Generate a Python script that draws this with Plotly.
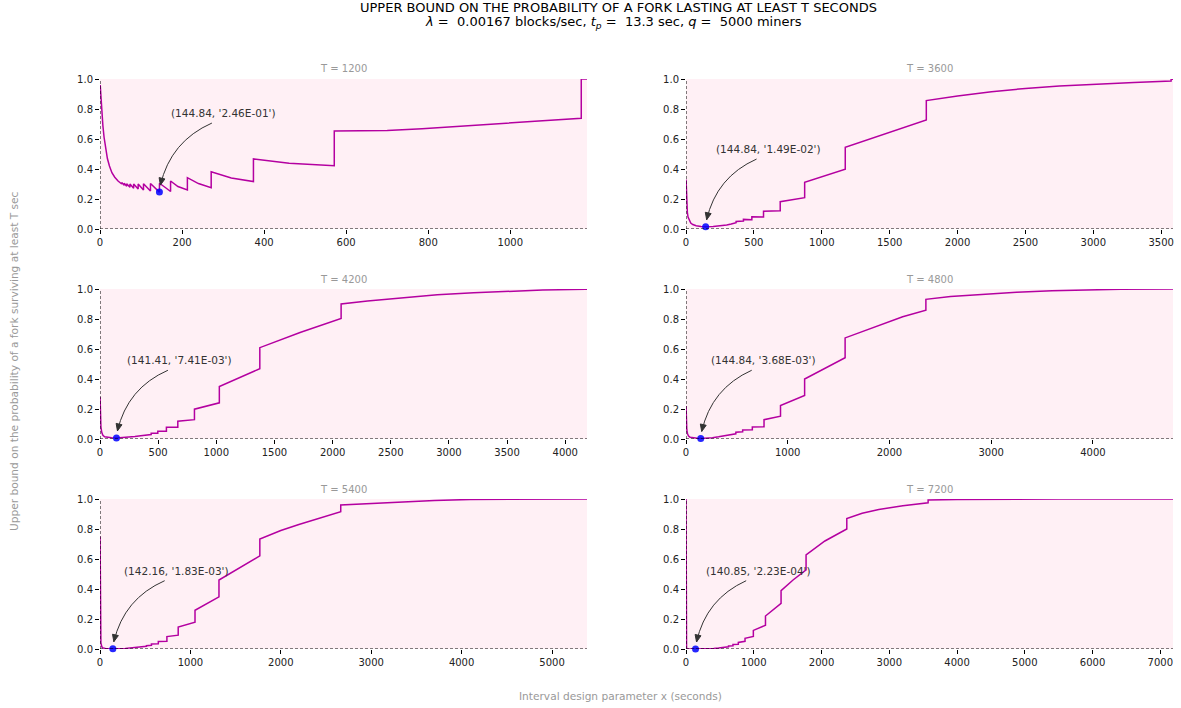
import math
import plotly.graph_objects as go

# ---------------- data ----------------
T_values = [1200, 3600, 4200, 4800, 5400, 7200]

x_T1200 = [0.5, 2, 4, 7, 10, 14, 18, 23, 29, 36, 44, 53, 53, 59, 59, 65, 65, 73, 73, 82, 82,
           93, 93, 106, 106, 123, 123, 144.84, 145, 160, 172, 172, 190, 213, 213, 240, 271, 271,
           320, 374, 374, 461, 520, 571, 571, 700, 785, 947, 1060, 1173, 1173, 1187]
y_T1200 = [0.96, 0.88, 0.79, 0.69, 0.61, 0.53, 0.47, 0.42, 0.375, 0.345, 0.32, 0.30, 0.31, 0.292,
           0.305, 0.285, 0.302, 0.278, 0.300, 0.272, 0.300, 0.266, 0.300, 0.260, 0.302, 0.254, 0.303,
           0.246, 0.305, 0.275, 0.25, 0.32, 0.283, 0.26, 0.342, 0.303, 0.276, 0.382, 0.34, 0.316,
           0.467, 0.438, 0.428, 0.422, 0.653, 0.657, 0.669, 0.70, 0.718, 0.738, 1.0, 1.0]

x_T3600 = [0.5, 3, 6, 10, 15, 24, 35, 50, 75, 110, 144.84, 200, 250, 300, 333, 369, 369, 423, 423,
           485, 485, 571, 571, 694, 694, 874, 874, 1020, 1173, 1173, 1470, 1770, 1770, 2000, 2250,
           2500, 2750, 3000, 3300, 3573, 3573, 3587]
y_T3600 = [0.33, 0.22, 0.15, 0.11, 0.08, 0.055, 0.04, 0.03, 0.022, 0.017, 0.0149, 0.017, 0.021,
           0.027, 0.033, 0.042, 0.05, 0.053, 0.064, 0.062, 0.082, 0.08, 0.118, 0.122, 0.182, 0.209,
           0.311, 0.355, 0.398, 0.544, 0.635, 0.727, 0.856, 0.887, 0.915, 0.937, 0.953, 0.966,
           0.977, 0.986, 0.998, 0.998]

x_T4200 = [0.5, 3, 8, 15, 25, 40, 70, 100, 141.41, 200, 250, 300, 350, 393, 393, 440, 440, 497,
           497, 571, 571, 669, 669, 812, 812, 1026, 1026, 1200, 1374, 1374, 1720, 2073, 2073, 2300,
           2617, 2900, 3212, 3500, 3807, 4173, 4187]
y_T4200 = [0.28, 0.15, 0.08, 0.045, 0.025, 0.015, 0.01, 0.0085, 0.0074, 0.009, 0.012, 0.016,
           0.021, 0.025, 0.028, 0.03, 0.038, 0.038, 0.051, 0.051, 0.078, 0.078, 0.118, 0.129,
           0.199, 0.241, 0.35, 0.41, 0.469, 0.609, 0.71, 0.804, 0.90, 0.92, 0.944, 0.962, 0.975,
           0.985, 0.993, 0.998, 0.999]

x_T4800 = [0.5, 3, 8, 15, 25, 40, 70, 110, 144.84, 200, 260, 320, 380, 440, 490, 490, 557, 557,
           652, 652, 767, 767, 929, 929, 1166, 1166, 1564, 1564, 1900, 2130, 2358, 2358, 2600,
           2922, 3250, 3598, 4000, 4274, 4787]
y_T4800 = [0.22, 0.12, 0.06, 0.035, 0.02, 0.012, 0.007, 0.005, 0.00368, 0.005, 0.009, 0.015,
           0.022, 0.03, 0.035, 0.045, 0.048, 0.06, 0.062, 0.08, 0.082, 0.129, 0.152, 0.223, 0.29,
           0.40, 0.542, 0.674, 0.76, 0.815, 0.859, 0.931, 0.95, 0.964, 0.979, 0.989, 0.995, 0.998,
           1.0]

x_T5400 = [0.5, 2, 5, 10, 20, 35, 60, 100, 142.16, 200, 280, 360, 440, 513, 513, 569, 569, 645,
           645, 740, 740, 865, 865, 1051, 1051, 1316, 1316, 1550, 1768, 1768, 2000, 2200, 2450,
           2663, 2663, 3000, 3338, 3700, 4097, 4600, 5387]
y_T5400 = [0.75, 0.3, 0.1, 0.04, 0.015, 0.007, 0.004, 0.0025, 0.00183, 0.002, 0.004, 0.008,
           0.013, 0.018, 0.022, 0.025, 0.034, 0.035, 0.05, 0.052, 0.083, 0.092, 0.146, 0.179,
           0.258, 0.348, 0.46, 0.545, 0.621, 0.733, 0.79, 0.83, 0.875, 0.915, 0.96, 0.97, 0.978,
           0.99, 0.997, 0.999, 1.0]

x_T7200 = [0.3, 1, 2, 4, 8, 15, 30, 60, 100, 140.85, 200, 300, 408, 480, 555, 627, 627, 693, 693,
           772, 772, 871, 871, 994, 994, 1173, 1173, 1403, 1403, 1580, 1772, 1772, 2050, 2373,
           2373, 2600, 2845, 3200, 3573, 3573, 4000, 4500, 5500, 7187]
y_T7200 = [1.0, 0.6, 0.25, 0.06, 0.01, 0.002, 0.0005, 0.0003, 0.00025, 0.000223, 0.0003, 0.0008,
           0.003, 0.006, 0.01, 0.015, 0.02, 0.022, 0.03, 0.031, 0.044, 0.051, 0.071, 0.084, 0.124,
           0.158, 0.22, 0.304, 0.389, 0.46, 0.527, 0.628, 0.72, 0.80, 0.87, 0.905, 0.93, 0.955,
           0.975, 0.993, 0.997, 0.999, 1.0, 1.0]

series_x = [x_T1200, x_T3600, x_T4200, x_T4800, x_T5400, x_T7200]
series_y = [y_T1200, y_T3600, y_T4200, y_T4800, y_T5400, y_T7200]

min_x = [144.84, 144.84, 141.41, 144.84, 142.16, 140.85]
min_y = [0.246, 0.0149, 0.00741, 0.00368, 0.00183, 0.000223]
min_labels = ["(144.84, '2.46E-01')", "(144.84, '1.49E-02')", "(141.41, '7.41E-03')",
              "(144.84, '3.68E-03')", "(142.16, '1.83E-03')", "(140.85, '2.23E-04')"]

x_max = [1187, 3587, 4187, 4787, 5387, 7187]
x_dtick = [200, 500, 500, 1000, 1000, 1000]

# ---------------- layout constants ----------------
W, H = 1181, 708
FONT = "DejaVu Sans"
LINE_COLOR = "rgb(180,0,160)"
BG = "#fff0f5"
ARROW_COLOR = "#333"
label_pos = [(302, 0.773), (608, 0.533), (687, 0.525), (764, 0.525), (848, 0.522), (1065, 0.522)]
# arrow tail / head offsets in pixels (relative to text centre / marked point)
tail_off = (-12, 10)
head_off = (1, -7)
ARC_RAD = 0.25

col_px = [(100, 587), (686, 1173)]
row_px = [(79, 229), (289, 439), (499, 649)]

fig = go.Figure()
layout = dict(
    template="none",
    width=W, height=H, autosize=False,
    margin=dict(l=0, r=0, t=0, b=0, pad=0),
    paper_bgcolor="white",
    showlegend=False,
    font=dict(family=FONT, size=10, color="#222"),
)
shapes = []
annotations = []

for i, T in enumerate(T_values):
    r, c = divmod(i, 2)
    n = "" if i == 0 else str(i + 1)
    xa, ya = "xaxis" + n, "yaxis" + n
    xr, yr = "x" + n, "y" + n
    x0p, x1p = col_px[c]
    y0p, y1p = row_px[r]
    layout[xa] = dict(
        domain=[x0p / W, x1p / W], anchor=yr, range=[0, x_max[i]], automargin=False,
        dtick=x_dtick[i], tick0=0, ticks="outside", ticklen=4, tickcolor="black", tickwidth=1,
        showgrid=False, zeroline=False, showline=False,
        tickfont=dict(size=10, color="#222"),
    )
    layout[ya] = dict(
        domain=[1 - y1p / H, 1 - y0p / H], anchor=xr, range=[0, 1.0], automargin=False,
        dtick=0.2, tick0=0, tickformat=".1f", ticks="outside", ticklen=4, tickcolor="black",
        tickwidth=1, showgrid=False, zeroline=False, showline=False,
        tickfont=dict(size=10, color="#222"),
    )
    fig.add_trace(go.Scatter(
        x=series_x[i], y=series_y[i], mode="lines",
        line=dict(color=LINE_COLOR, width=1.5), xaxis=xr, yaxis=yr,
    ))
    fig.add_trace(go.Scatter(
        x=[min_x[i]], y=[min_y[i]], mode="markers",
        marker=dict(color="blue", size=7, opacity=0.85, line=dict(width=0)), xaxis=xr, yaxis=yr,
        cliponaxis=False,
    ))
    # dashed spines
    shapes.append(dict(type="line", xref=xr, yref=yr + " domain", x0=0, x1=0, y0=0, y1=1,
                       line=dict(color="black", width=1, dash="3px,2px")))
    shapes.append(dict(type="line", xref=xr + " domain", yref=yr, x0=0, x1=1, y0=0, y1=0,
                       line=dict(color="black", width=1, dash="3px,2px")))
    # subplot title
    annotations.append(dict(
        text=f"T = {T}", xref="paper", yref="paper",
        x=(x0p + x1p) / 2 / W, y=1 - (y0p - 10) / H, xanchor="center", yanchor="middle",
        showarrow=False, font=dict(size=10, color="#999"),
    ))
    # min annotation text
    lx, ly = label_pos[i]
    annotations.append(dict(
        text=min_labels[i], xref=xr, yref=yr, x=lx, y=ly, xanchor="center", yanchor="middle",
        showarrow=False, font=dict(size=10.5, color="#333"),
    ))

    # curved arrow (arc3 style) from below text to the marked point
    sx = (x1p - x0p) / x_max[i]
    sy = (y1p - y0p) / 1.0

    def to_px(xv, yv):
        return x0p + xv * sx, y1p - yv * sy

    def to_data(px, py):
        return (px - x0p) / sx, (y1p - py) / sy

    tx, ty = to_px(lx, ly)
    tx, ty = tx + tail_off[0], ty + tail_off[1]
    hx, hy = to_px(min_x[i], min_y[i])
    hx, hy = hx + head_off[0], hy + head_off[1]
    # matplotlib arc3 control point (y-up coordinates)
    dx, dy = hx - tx, -(hy - ty)
    mx, my = (tx + hx) / 2, -(ty + hy) / 2
    cx, cy = mx + ARC_RAD * dy, my - ARC_RAD * dx
    cy = -cy
    p0 = to_data(tx, ty)
    pc = to_data(cx, cy)
    p1 = to_data(hx, hy)
    shapes.append(dict(
        type="path", xref=xr, yref=yr,
        path=f"M {p0[0]},{p0[1]} Q {pc[0]},{pc[1]} {p1[0]},{p1[1]}",
        line=dict(color=ARROW_COLOR, width=1),
    ))
    # arrow head (filled triangle) along the tangent at the end
    ux, uy = hx - cx, hy - cy
    L = math.hypot(ux, uy)
    ux, uy = ux / L, uy / L
    hl, hw = 7, 3
    bx, by = hx - ux * hl, hy - uy * hl
    a1 = to_data(bx - uy * hw, by + ux * hw)
    a2 = to_data(bx + uy * hw, by - ux * hw)
    shapes.append(dict(
        type="path", xref=xr, yref=yr,
        path=f"M {p1[0]},{p1[1]} L {a1[0]},{a1[1]} L {a2[0]},{a2[1]} Z",
        line=dict(color=ARROW_COLOR, width=1), fillcolor=ARROW_COLOR,
    ))

annotations.append(dict(
    text="UPPER BOUND ON THE PROBABILITY OF A FORK LASTING AT LEAST T SECONDS",
    xref="paper", yref="paper", x=618 / W, y=1 - 7 / H, xanchor="center", yanchor="middle",
    showarrow=False, font=dict(size=13, color="black"),
))
annotations.append(dict(
    text="<i>λ</i> =  0.00167 blocks/sec, <i>t<sub>p</sub></i> =  13.3 sec, <i>q</i> =  5000 miners",
    xref="paper", yref="paper", x=613 / W, y=1 - 23 / H, xanchor="center", yanchor="middle",
    showarrow=False, font=dict(size=13, color="black"),
))
annotations.append(dict(
    text="Interval design parameter x (seconds)",
    xref="paper", yref="paper", x=620 / W, y=1 - 696 / H, xanchor="center", yanchor="middle",
    showarrow=False, font=dict(size=10.6, color="#999"),
))
annotations.append(dict(
    text="Upper bound on the probability of a fork surviving at least T sec",
    xref="paper", yref="paper", x=14 / W, y=1 - 361 / H, xanchor="center", yanchor="middle",
    textangle=-90, showarrow=False, font=dict(size=10.6, color="#999"),
))

layout["shapes"] = shapes
layout["annotations"] = annotations
layout["plot_bgcolor"] = BG
fig.update_layout(**layout)
fig.write_html(
    "out.html",
    config={"displayModeBar": False},
    post_script="document.body.style.margin='0';document.body.style.overflow='hidden';",
)
